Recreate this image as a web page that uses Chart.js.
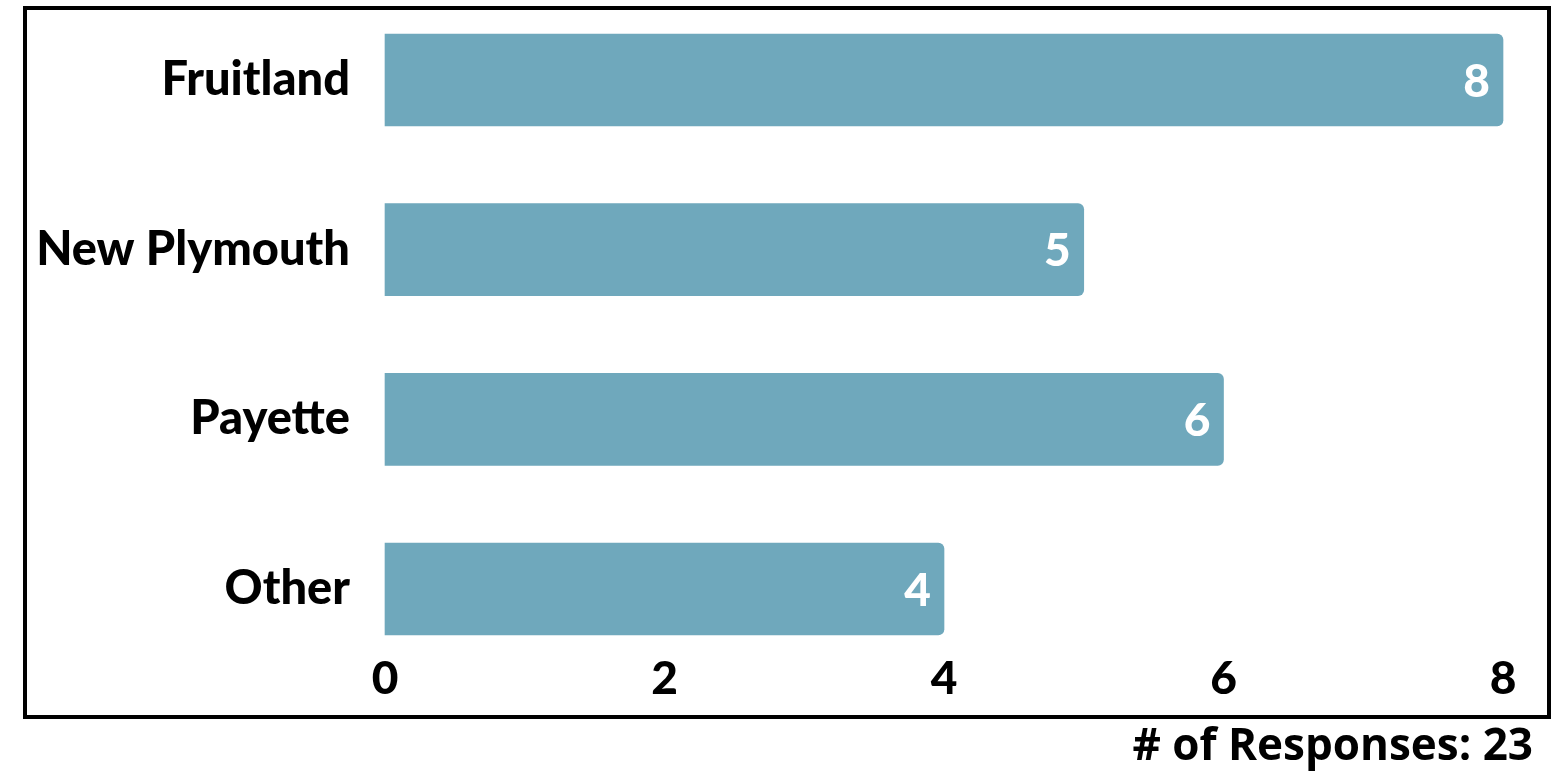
<!DOCTYPE html>
<html>
<head>
<meta charset="utf-8">
<script src="https://cdn.jsdelivr.net/npm/chart.js@4.4.0/dist/chart.umd.min.js"></script>
<style>
  html, body { margin: 0; padding: 0; background: #fff; }
  #wrap { position: relative; width: 1565px; height: 775px; }
  #moldura {
    position: absolute; left: 23px; top: 6px; width: 1520px; height: 705px;
    border: 4px solid #000; pointer-events: none;
  }
  #total {
    position: absolute; right: 32px; top: 713px; line-height: 60px;
    font-family: "Open Sans", sans-serif; font-weight: 700; font-size: 44px; color: #000;
  }
</style>
</head>
<body>
<div id="wrap">
  <canvas id="grafico_cidades"></canvas>
  <div id="moldura"></div>
  <div id="total"># of Responses: 23</div>
</div>
<script>
// --- Dados ---
const cidades = ['Fruitland', 'New Plymouth', 'Payette', 'Other'];
const respostas = [8, 5, 6, 4];
const ticksX = [0, 2, 4, 6, 8];

const corBarra = 'rgb(111, 168, 188)';
const fonteRotulo = 'Lato, sans-serif';

// escreve o valor dentro da ponta de cada barra
const valoresNasBarras = {
    id: 'valoresNasBarras',
    afterDatasetsDraw(chart) {
        const ctx = chart.ctx;
        const meta = chart.getDatasetMeta(0);
        ctx.save();
        ctx.fillStyle = '#fff';
        ctx.font = '900 46px ' + fonteRotulo;
        ctx.textAlign = 'right';
        ctx.textBaseline = 'middle';
        meta.data.forEach((barra, i) => {
            ctx.fillText(String(respostas[i]), barra.x - 13, barra.y + 2);
        });
        ctx.restore();
    }
};

const ctx = document.getElementById('grafico_cidades');
const grafico = new Chart(ctx, {
    type: 'bar',
    data: {
        labels: cidades,
        datasets: [{
            data: respostas,
            backgroundColor: corBarra,
            borderRadius: 6,
            borderSkipped: 'start',
            barThickness: 92,
            clip: false
        }]
    },
    options: {
        indexAxis: 'y',
        responsive: true,
        maintainAspectRatio: false,
        animation: false,
        layout: {
            padding: { top: 80, right: 0, bottom: 0, left: 0 }
        },
        plugins: {
            legend: { display: false },
            tooltip: { enabled: false }
        },
        scales: {
            x: {
                min: 0,
                max: 8,
                afterBuildTicks(scale) {
                    scale.ticks = ticksX.map(v => ({ value: v }));
                },
                afterFit(scale) {
                    // altura fixa do eixo e margem direita fixa
                    scale.height = 775 - 589;
                    scale.paddingLeft = 0;
                    scale.paddingRight = 62;
                },
                grid: { display: false, drawTicks: false },
                border: { display: false },
                ticks: {
                    padding: 63,
                    color: '#000',
                    font: { family: fonteRotulo, weight: '900', size: 46 }
                }
            },
            y: {
                offset: false,
                afterFit(scale) {
                    scale.width = 385;
                },
                grid: { display: false, drawTicks: false },
                border: { display: false },
                ticks: {
                    padding: 35,
                    color: '#000',
                    font: { family: fonteRotulo, weight: '900', size: 47 }
                }
            }
        }
    },
    plugins: [valoresNasBarras]
});
</script>
</body>
</html>
